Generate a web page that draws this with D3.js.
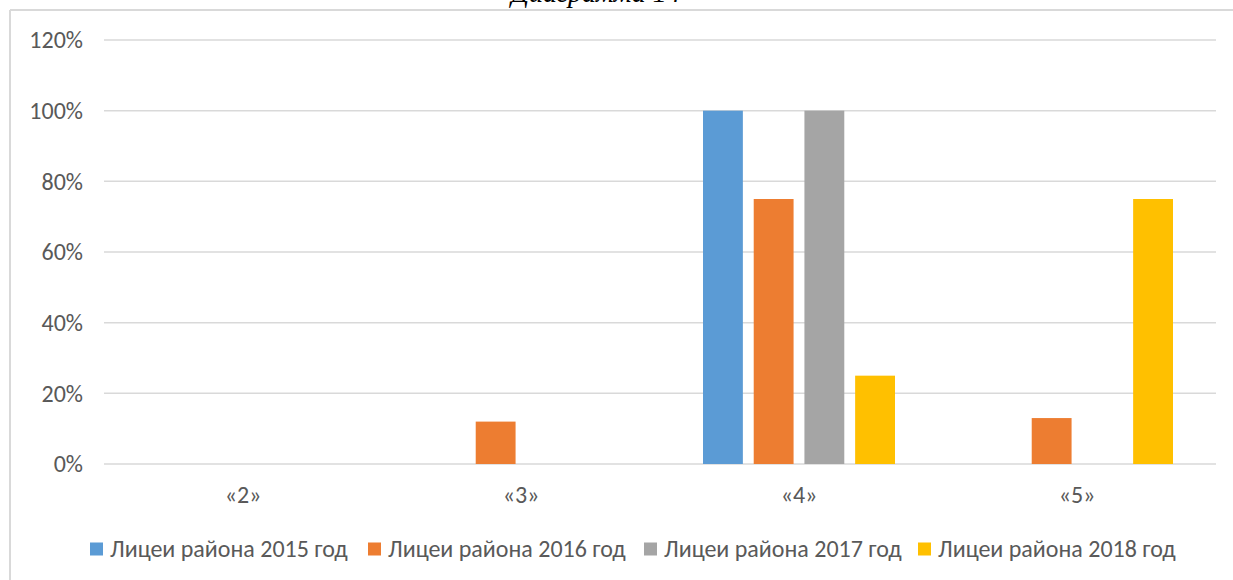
<!DOCTYPE html>
<html>
<head>
<meta charset="utf-8">
<script src="https://cdnjs.cloudflare.com/ajax/libs/d3/7.8.5/d3.min.js"></script>
<style>
  body { margin: 0; background: #fff; }
  svg text { font-family: Carlito, Calibri, Lato, "Open Sans", sans-serif; fill: #595959; }
</style>
</head>
<body>
<div id="chart"></div>
<script type="text/javascript">
// categories (grades) and series
var categories = ["«2»", "«3»", "«4»", "«5»"];
var seriesNames = ["Лицеи района 2015 год", "Лицеи района 2016 год", "Лицеи района 2017 год", "Лицеи района 2018 год"];
var values2015 = [0, 0, 1.00, 0];
var values2016 = [0, 0.12, 0.75, 0.13];
var values2017 = [0, 0, 1.00, 0];
var values2018 = [0, 0, 0.25, 0.75];
var yTicks = [0, 0.2, 0.4, 0.6, 0.8, 1.0, 1.2];
var colors = ["#5B9BD5", "#ED7D31", "#A5A5A5", "#FFC000"];

var allSeries = [values2015, values2016, values2017, values2018];

var width = 1233, height = 580;
var plot = {left: 104, right: 1216, top: 40, bottom: 464};

var svg = d3.select("#chart").append("svg")
    .attr("width", width)
    .attr("height", height);

// frame of the chart object (top + left edge visible)
svg.append("line")
    .attr("x1", 10).attr("x2", width).attr("y1", 10).attr("y2", 10)
    .attr("stroke", "#d9d9d9").attr("stroke-width", 2);
svg.append("line")
    .attr("x1", 10).attr("x2", 10).attr("y1", 10).attr("y2", height)
    .attr("stroke", "#d9d9d9").attr("stroke-width", 2);

// caption, only its lower part shows above the frame
svg.append("text")
    .attr("x", 596)
    .attr("y", 2)
    .attr("text-anchor", "middle")
    .style("font-family", "'Liberation Serif', 'Times New Roman', serif")
    .style("font-style", "italic")
    .style("font-size", "28px")
    .style("fill", "#000")
    .text("Диаграмма 14");

// scales
var x0 = d3.scaleBand()
    .domain(categories)
    .range([plot.left, plot.right]);

var x1 = d3.scaleBand()
    .domain(d3.range(seriesNames.length))
    .range([43, 235])
    .paddingInner(0.214);

var y = d3.scaleLinear()
    .domain([0, 1.2])
    .range([plot.bottom, plot.top]);

// gridlines
svg.append("g")
    .selectAll("line")
    .data(yTicks)
  .enter().append("line")
    .attr("x1", plot.left)
    .attr("x2", plot.right)
    .attr("y1", function(d) { return y(d); })
    .attr("y2", function(d) { return y(d); })
    .attr("stroke", "#d9d9d9")
    .attr("stroke-width", 1.5);

// y axis labels
var yAxis = svg.append("g")
    .attr("transform", "translate(" + 83 + ",0)")
    .call(d3.axisLeft(y).tickValues(yTicks).tickSize(0).tickPadding(0).tickFormat(d3.format(".0%")));
yAxis.select(".domain").remove();
yAxis.selectAll("text")
    .style("font-size", "24px");

// bars
var groups = svg.append("g")
    .selectAll("g")
    .data(categories)
  .enter().append("g")
    .attr("transform", function(d) { return "translate(" + x0(d) + ",0)"; });

groups.selectAll("rect")
    .data(function(d, i) { return allSeries.map(function(s, k) { return {k: k, v: s[i]}; }); })
  .enter().append("rect")
    .filter(function(d) { return d.v > 0; })
    .attr("x", function(d) { return x1(d.k); })
    .attr("width", x1.bandwidth())
    .attr("y", function(d) { return y(d.v); })
    .attr("height", function(d) { return y(0) - y(d.v); })
    .attr("fill", function(d) { return colors[d.k]; });

// x axis labels
var xAxis = svg.append("g")
    .attr("transform", "translate(0," + plot.bottom + ")")
    .call(d3.axisBottom(x0).tickSize(0).tickPadding(22));
xAxis.select(".domain").remove();
xAxis.selectAll("text")
    .style("font-size", "24px");

// legend
var legendX = [90, 368, 644, 918];
var legend = svg.append("g")
    .selectAll("g")
    .data(seriesNames)
  .enter().append("g")
    .attr("transform", function(d, i) { return "translate(" + legendX[i] + ",549)"; });

legend.append("rect")
    .attr("x", 0)
    .attr("y", -6.5)
    .attr("width", 13)
    .attr("height", 13)
    .attr("fill", function(d, i) { return colors[i]; });

legend.append("text")
    .attr("x", 20)
    .attr("y", 0)
    .attr("dy", "0.35em")
    .style("font-size", "24px")
    .text(function(d) { return d; });
</script>
</body>
</html>
